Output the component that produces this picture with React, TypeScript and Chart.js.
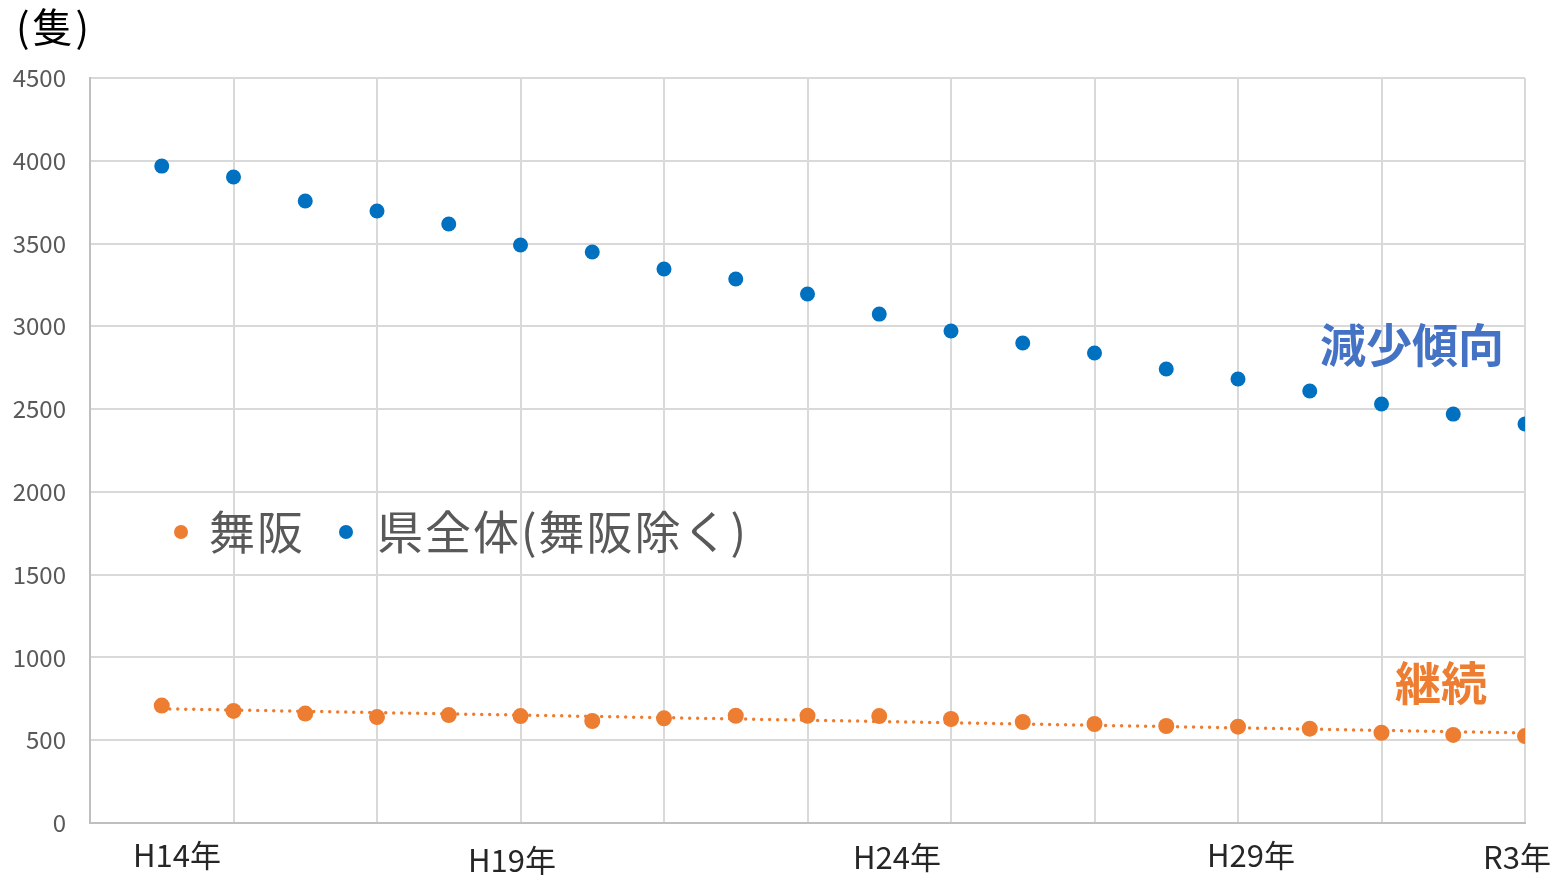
import React, { useEffect, useRef } from "react";
import { Chart, registerables } from "chart.js";

Chart.register(...registerables);

// ---- data ----
const xIndex = [1, 2, 3, 4, 5, 6, 7, 8, 9, 10, 11, 12, 13, 14, 15, 16, 17, 18, 19, 20];
const maisakaValues = [709, 677, 661, 640, 652, 646, 616, 632, 648, 648, 646, 628, 610, 598, 586, 582, 570, 545, 532, 525];
const prefectureValues = [3968, 3902, 3757, 3697, 3618, 3491, 3449, 3346, 3286, 3195, 3074, 2972, 2899, 2839, 2742, 2682, 2609, 2531, 2470, 2410];
const trendX = [1, 20];
const trendValues = [690, 544];
const seriesNames = ["舞阪", "県全体(舞阪除く)"];
const xLabelTexts = ["H14年", "H19年", "H24年", "H29年", "R3年"];
const yTicks = [0, 500, 1000, 1500, 2000, 2500, 3000, 3500, 4000, 4500];
const unitLabel = "(隻)";
const noteDecrease = "減少傾向";
const noteContinue = "継続";

// ---- layout / style ----
const W = 1558;
const H = 875;
const ORANGE = "#ED7D31";
const BLUE = "#0070C0";
const FONT = '"Noto Sans CJK JP", "Noto Sans", sans-serif';
const xLabelPos = [
  { cx: 177, cy: 855 },
  { cx: 512, cy: 860 },
  { cx: 897, cy: 857 },
  { cx: 1251, cy: 855 },
  { cx: 1517, cy: 857 },
];

const overlayPlugin = {
  id: "overlay",
  afterDraw(chart: any) {
    const ctx = chart.ctx as any;
    ctx.save();
    // unit label
    ctx.fillStyle = "#000000";
    ctx.font = `40px ${FONT}`;
    ctx.textAlign = "left";
    ctx.textBaseline = "middle";
    ctx.letterSpacing = "3px";
    ctx.fillText(unitLabel, 16, 27);
    ctx.letterSpacing = "0px";

    // x labels
    ctx.fillStyle = "#262626";
    ctx.font = `31px ${FONT}`;
    ctx.textAlign = "center";
    xLabelTexts.forEach((t, i) => {
      ctx.fillText(t, xLabelPos[i].cx, xLabelPos[i].cy);
    });

    // legend
    const legendItems = [
      { name: seriesNames[0], color: ORANGE, dotX: 181, textX: 209 },
      { name: seriesNames[1], color: BLUE, dotX: 346, textX: 377 },
    ];
    const ly = 532;
    ctx.font = `46px ${FONT}`;
    ctx.textAlign = "left";
    ctx.letterSpacing = "2px";
    legendItems.forEach((it) => {
      ctx.fillStyle = it.color;
      ctx.beginPath();
      ctx.arc(it.dotX, ly, 7, 0, Math.PI * 2);
      ctx.fill();
      ctx.fillStyle = "#595959";
      ctx.fillText(it.name, it.textX, ly);
    });
    ctx.letterSpacing = "0px";

    // annotations
    ctx.font = `bold 46px ${FONT}`;
    ctx.textAlign = "center";
    ctx.fillStyle = "#4472C4";
    ctx.fillText(noteDecrease, 1412, 345);
    ctx.fillStyle = ORANGE;
    ctx.fillText(noteContinue, 1441, 683);
    ctx.restore();
  },
};

export default function App() {
  const ref = useRef<HTMLCanvasElement>(null);
  useEffect(() => {
    if (!ref.current) return;
    const chart = new Chart(ref.current, {
      type: "scatter",
      data: {
        datasets: [
          {
            label: seriesNames[1],
            data: xIndex.map((x, i) => ({ x, y: prefectureValues[i] })),
            backgroundColor: BLUE,
            borderColor: BLUE,
            pointRadius: 7.5,
            pointHoverRadius: 7.5,
            borderWidth: 0,
            order: 2,
          },
          {
            label: seriesNames[0],
            data: xIndex.map((x, i) => ({ x, y: maisakaValues[i] })),
            backgroundColor: ORANGE,
            borderColor: ORANGE,
            pointRadius: 8,
            pointHoverRadius: 8,
            borderWidth: 0,
            order: 1,
          },
          {
            type: "line",
            label: "trend",
            data: trendX.map((x, i) => ({ x, y: trendValues[i] })),
            borderColor: ORANGE,
            borderWidth: 3.5,
            borderDash: [0, 8],
            borderCapStyle: "round",
            pointRadius: 0,
            fill: false,
            order: 3,
          } as any,
        ],
      },
      options: {
        responsive: false,
        animation: false,
        layout: { padding: { left: 0, right: 33, top: 78, bottom: 52 } },
        plugins: {
          legend: { display: false },
          tooltip: { enabled: false },
        },
        scales: {
          x: {
            type: "linear",
            min: 0,
            max: 20,
            ticks: { display: false, stepSize: 2 },
            grid: { color: "#d9d9d9", lineWidth: 2, drawTicks: false },
            border: { color: "#bfbfbf", width: 2 },
            afterFit(scale: any) {
              scale.height = 0;
            },
          },
          y: {
            min: 0,
            max: 4500,
            afterBuildTicks(scale: any) {
              scale.ticks = yTicks.map((v) => ({ value: v }));
            },
            ticks: {
              color: "#595959",
              font: { family: FONT, size: 24 },
              padding: 24,
              callback: (v: any) => String(v),
            },
            grid: { color: "#d9d9d9", lineWidth: 2, drawTicks: false },
            border: { color: "#bfbfbf", width: 2 },
            afterFit(scale: any) {
              scale.width = 90;
            },
          },
        },
      },
      plugins: [overlayPlugin],
    });
    return () => chart.destroy();
  }, []);
  return (
    <div style={{ position: "fixed", left: 0, top: 0, width: W, height: H, background: "#fff" }}>
      <canvas ref={ref} width={W} height={H} style={{ width: W, height: H, display: "block" }} />
    </div>
  );
}
